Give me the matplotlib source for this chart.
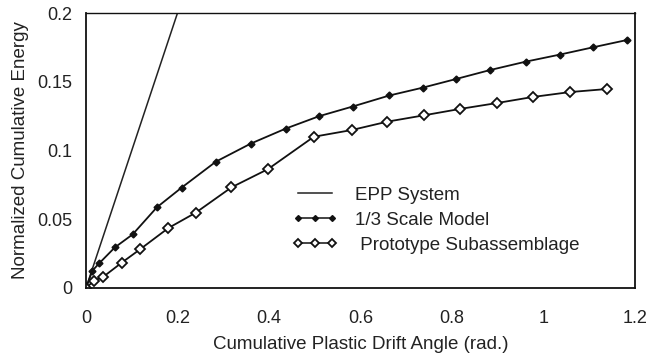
import matplotlib
matplotlib.use("Agg")
import matplotlib.pyplot as plt
import numpy as np

plt.rcParams['font.family'] = ['Liberation Sans', 'DejaVu Sans']

# EPP system (elastic-perfectly-plastic reference line)
epp_x = [0.0, 0.2]
epp_y = [0.0, 0.2]

# 1/3 scale model
model_x = [0.0, 0.014, 0.029, 0.063, 0.102, 0.155, 0.209, 0.284, 0.360, 0.437,
           0.510, 0.583, 0.663, 0.736, 0.809, 0.883, 0.961, 1.035, 1.109, 1.183]
model_y = [0.0, 0.0126, 0.018, 0.0295, 0.039, 0.0587, 0.073, 0.0919, 0.105, 0.116,
           0.125, 0.132, 0.140, 0.1457, 0.152, 0.1585, 0.1646, 0.1697, 0.1751, 0.1804]

# Prototype subassemblage
proto_x = [0.0, 0.0175, 0.038, 0.078, 0.118, 0.180, 0.240, 0.318, 0.398, 0.498,
           0.581, 0.659, 0.739, 0.817, 0.898, 0.976, 1.058, 1.138]
proto_y = [0.0, 0.0053, 0.0082, 0.0184, 0.0281, 0.0436, 0.0548, 0.0732, 0.0865, 0.110,
           0.1149, 0.121, 0.1256, 0.1302, 0.1345, 0.1389, 0.1425, 0.1447]

x_ticks = [0, 0.2, 0.4, 0.6, 0.8, 1, 1.2]
x_tick_labels = ['0', '0.2', '0.4', '0.6', '0.8', '1', '1.2']
y_ticks = [0, 0.05, 0.1, 0.15, 0.2]
y_tick_labels = ['0', '0.05', '0.1', '0.15', '0.2']

fig = plt.figure(figsize=(6.64, 3.58), dpi=100)
ax = fig.add_axes([86/664, 70/358, 549/664, 275/358])

ax.plot(epp_x, epp_y, color='#222222', lw=1.1, label='EPP System')
ax.plot(model_x, model_y, color='#111111', lw=1.3, marker='D', markersize=3.5,
        markerfacecolor='#111111', markeredgecolor='#111111', label='1/3 Scale Model')
ax.plot(proto_x, proto_y, color='#111111', lw=1.3, marker='D', markersize=5,
        markerfacecolor='white', markeredgecolor='#111111', markeredgewidth=1.3,
        label=' Prototype Subassemblage')

ax.set_xlim(0, 1.2)
ax.set_ylim(0, 0.2)
ax.set_xticks(x_ticks)
ax.set_xticklabels(x_tick_labels)
ax.set_yticks(y_ticks)
ax.set_yticklabels(y_tick_labels)
ax.tick_params(axis='both', length=0, labelsize=13, colors='#222222')
ax.tick_params(axis='x', pad=16)
ax.tick_params(axis='y', pad=10)

for s in ax.spines.values():
    s.set_color('#111111')
    s.set_linewidth(1.3)
ax.spines['top'].set_linewidth(1.0)

ax.set_xlabel('Cumulative Plastic Drift Angle (rad.)', fontsize=13.5, color='#222222', labelpad=6)
ax.set_ylabel('Normalized Cumulative Energy', fontsize=13.5, color='#222222', labelpad=6)

leg = ax.legend(loc='upper left', bbox_to_anchor=(0.3616, 0.395), frameon=False,
                fontsize=13.5, handlelength=2.45, labelspacing=0.41, handletextpad=0.9,
                borderaxespad=0, numpoints=3)
for t in leg.get_texts():
    t.set_color('#222222')
for h in leg.legend_handles:
    h.set_linewidth(1.1)
    h.set_markersize(h.get_markersize() * 0.85)

fig.savefig('out.png', dpi=100)
